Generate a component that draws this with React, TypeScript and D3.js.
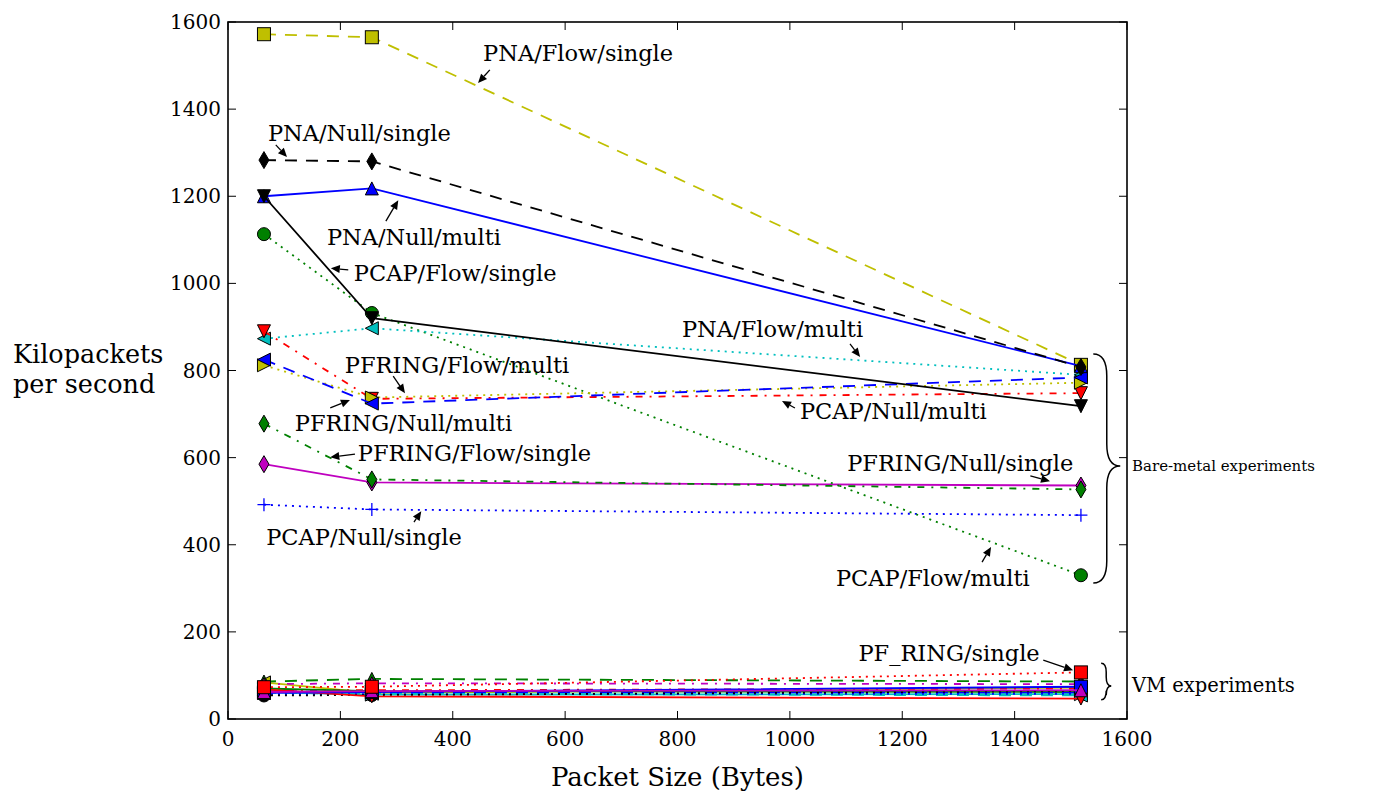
import React from 'react';
import * as d3 from 'd3';

const packetSizes = [64, 256, 1518];
const xTicks = [0, 200, 400, 600, 800, 1000, 1200, 1400, 1600];
const yTicks = [0, 200, 400, 600, 800, 1000, 1200, 1400, 1600];

// Bare-metal experiments (kilopackets per second)
const pnaFlowSingle = [1572, 1565, 813];
const pnaNullMulti = [1200, 1218, 810];
const pnaNullSingle = [1283, 1280, 808];
const pcapFlowSingle = [1200, 920, 718];
const pcapFlowMulti = [1113, 932, 330];
const pnaFlowMulti = [873, 897, 790];
const pcapNullMulti = [890, 735, 748];
const pfringFlowMulti = [812, 738, 772];
const pfringNullMulti = [825, 724, 784];
const pfringFlowSingle = [678, 550, 527];
const pfringNullSingle = [585, 543, 536];
const pcapNullSingle = [492, 481, 468];

// VM experiments
const vmYellow = [84, 60, 72];
const vmGreenDashed = [86, 92, 86];
const vmMagentaDashDot = [80, 82, 80];
const vmRedDashDot = [66, 66, 70];
const vmGreenSolid = [70, 64, 62];
const vmBlueDashed = [64, 61, 60];
const vmCyanDashed = [60, 58, 54];
const vmCyanSolid = [62, 56, 57];
const vmBlueDotted = [57, 57, 58];
const vmBlackDotted = [54, 55, 64];
const vmRedSolid = [68, 52, 47];
const vmBlueSolid = [60, 62, 74];
const vmMagentaSolid = [62, 64, 66];
const vmPfringSingle = [73, 74, 107];

const C = {
  y: '#bfbf00', k: '#000000', b: '#0000ff', g: '#008000',
  c: '#00bfbf', r: '#ff0000', m: '#bf00bf',
};

const DASH: Record<string, string | undefined> = {
  '-': undefined, '--': '12,9', ':': '2,5', '-.': '7,7,2,7',
};

type Series = { values: number[]; color: string; ls: string; marker: string };

const vmSeries: Series[] = [
  { values: vmYellow, color: C.y, ls: '-', marker: '<' },
  { values: vmGreenDashed, color: C.g, ls: '--', marker: '^' },
  { values: vmMagentaDashDot, color: C.m, ls: '-.', marker: '^' },
  { values: vmRedDashDot, color: C.r, ls: '-.', marker: 'v' },
  { values: vmGreenSolid, color: C.g, ls: '-', marker: 'o' },
  { values: vmBlueDashed, color: C.b, ls: '--', marker: '<' },
  { values: vmCyanDashed, color: C.c, ls: '--', marker: '<' },
  { values: vmCyanSolid, color: C.c, ls: '-', marker: '>' },
  { values: vmBlueDotted, color: C.b, ls: ':', marker: 'v' },
  { values: vmBlackDotted, color: C.k, ls: ':', marker: 'o' },
  { values: vmRedSolid, color: C.r, ls: '-', marker: 'v' },
  { values: vmBlueSolid, color: C.b, ls: '-', marker: 's' },
  { values: vmMagentaSolid, color: C.m, ls: '-', marker: '^' },
  { values: vmPfringSingle, color: C.r, ls: ':', marker: 's' },
];

const bareSeries: Series[] = [
  { values: pcapNullSingle, color: C.b, ls: ':', marker: '+' },
  { values: pfringNullSingle, color: C.m, ls: '-', marker: 'd' },
  { values: pfringFlowSingle, color: C.g, ls: '-.', marker: 'd' },
  { values: pcapFlowMulti, color: C.g, ls: ':', marker: 'o' },
  { values: pnaFlowMulti, color: C.c, ls: ':', marker: '<' },
  { values: pcapNullMulti, color: C.r, ls: '-.', marker: 'v' },
  { values: pfringFlowMulti, color: C.y, ls: ':', marker: '>' },
  { values: pfringNullMulti, color: C.b, ls: '--', marker: '<' },
  { values: pnaFlowSingle, color: C.y, ls: '--', marker: 's' },
  { values: pnaNullMulti, color: C.b, ls: '-', marker: '^' },
  { values: pnaNullSingle, color: C.k, ls: '--', marker: 'd' },
  { values: pcapFlowSingle, color: C.k, ls: '-', marker: 'v' },
];

// annotation text (baseline-left) and arrow start/tip, in data units
const annotations = [
  { text: 'PNA/Flow/single', at: [454, 1511], from: [466, 1490], to: [445, 1460] },
  { text: 'PNA/Null/single', at: [71, 1327], from: [85, 1318], to: [105, 1290] },
  { text: 'PNA/Null/multi', at: [176, 1088], from: [281, 1143], to: [303, 1191] },
  { text: 'PCAP/Flow/single', at: [224, 1006], from: [214, 1031], to: [183, 1035] },
  { text: 'PNA/Flow/multi', at: [808, 877], from: [1107, 861], to: [1125, 831] },
  { text: 'PFRING/Flow/multi', at: [208, 794], from: [294, 787], to: [315, 748] },
  { text: 'PFRING/Null/multi', at: [119, 661], from: [182, 714], to: [217, 732] },
  { text: 'PFRING/Flow/single', at: [231, 592], from: [226, 608], to: [182, 601] },
  { text: 'PFRING/Null/single', at: [1102, 569], from: [1428, 558], to: [1463, 546] },
  { text: 'PCAP/Null/single', at: [68, 400], from: [331, 452], to: [344, 477] },
  { text: 'PCAP/Flow/multi', at: [1082, 305], from: [1342, 360], to: [1358, 395] },
  { text: 'PCAP/Null/multi', at: [1018, 689], from: [1009, 714], to: [986, 730] },
  { text: 'PF_RING/single', at: [1122, 133], from: [1451, 135], to: [1504, 112] },
];

const W = 1380;
const H = 794;
const plot = { left: 228, right: 1127, top: 22, bottom: 719 };
const FONT = '"DejaVu Serif", serif';

function markerShape(m: string, color: string, key: string) {
  const s = 6.5;
  const common = { fill: color, stroke: '#000', strokeWidth: 1 };
  switch (m) {
    case 'o':
      return <circle key={key} r={s} {...common} />;
    case 's':
      return <rect key={key} x={-s} y={-s} width={2 * s} height={2 * s} {...common} />;
    case '^':
      return <path key={key} d={`M0,${-s}L${s},${s}L${-s},${s}Z`} {...common} />;
    case 'v':
      return <path key={key} d={`M0,${s}L${s},${-s}L${-s},${-s}Z`} {...common} />;
    case '<':
      return <path key={key} d={`M${-s},0L${s},${-s}L${s},${s}Z`} {...common} />;
    case '>':
      return <path key={key} d={`M${s},0L${-s},${-s}L${-s},${s}Z`} {...common} />;
    case 'd':
      return <path key={key} d="M0,-8.5L5,0L0,8.5L-5,0Z" {...common} />;
    case '+':
      return <path key={key} d={`M${-s},0H${s}M0,${-s}V${s}`} fill="none" stroke={color} strokeWidth={1.3} />;
    default:
      return null;
  }
}

function bracePath(x0: number, x1: number, yTop: number, yBot: number, yMid: number, r: number) {
  const xs = x0 + (x1 - x0) * 0.5;
  return [
    `M${x0},${yTop}`,
    `Q${xs},${yTop} ${xs},${yTop + r}`,
    `L${xs},${yMid - r}`,
    `Q${xs},${yMid} ${x1},${yMid}`,
    `Q${xs},${yMid} ${xs},${yMid + r}`,
    `L${xs},${yBot - r}`,
    `Q${xs},${yBot} ${x0},${yBot}`,
  ].join(' ');
}

export default function App() {
  const x = d3.scaleLinear().domain([0, 1600]).range([plot.left, plot.right]);
  const y = d3.scaleLinear().domain([0, 1600]).range([plot.bottom, plot.top]);

  const line = d3.line<number>()
    .x((_, i) => x(packetSizes[i]))
    .y(d => y(d));

  const drawSeries = (s: Series, idx: number, prefix: string) => (
    <g key={`${prefix}${idx}`}>
      <path
        d={line(s.values) || ''}
        fill="none"
        stroke={s.color}
        strokeWidth={1.8}
        strokeDasharray={DASH[s.ls]}
      />
      {s.values.map((v, i) => (
        <g key={i} transform={`translate(${x(packetSizes[i])},${y(v)})`}>
          {markerShape(s.marker, s.color, `m${i}`)}
        </g>
      ))}
    </g>
  );

  const arrow = (a: typeof annotations[number], i: number) => {
    const x1 = x(a.from[0]);
    const y1 = y(a.from[1]);
    const x2 = x(a.to[0]);
    const y2 = y(a.to[1]);
    const ang = Math.atan2(y2 - y1, x2 - x1);
    const hl = 9;
    const hw = 4;
    const bx = x2 - hl * Math.cos(ang);
    const by = y2 - hl * Math.sin(ang);
    const px = -Math.sin(ang) * hw;
    const py = Math.cos(ang) * hw;
    return (
      <g key={`a${i}`}>
        <line x1={x1} y1={y1} x2={bx} y2={by} stroke="#000" strokeWidth={1.3} />
        <path d={`M${x2},${y2}L${bx + px},${by + py}L${bx - px},${by - py}Z`} fill="#000" />
        <text x={x(a.at[0])} y={y(a.at[1])} fontSize={22.5} fontFamily={FONT} fill="#000">
          {a.text}
        </text>
      </g>
    );
  };

  const tickLen = 8;

  return (
    <svg
      width={W}
      height={H}
      style={{ position: 'absolute', left: 0, top: 0, background: '#fff' }}
    >
      <rect x={0} y={0} width={W} height={H} fill="#fff" />

      {vmSeries.map((s, i) => drawSeries(s, i, 'vm'))}
      {bareSeries.map((s, i) => drawSeries(s, i, 'bm'))}

      {annotations.map(arrow)}

      {/* frame */}
      <rect
        x={plot.left}
        y={plot.top}
        width={plot.right - plot.left}
        height={plot.bottom - plot.top}
        fill="none"
        stroke="#000"
        strokeWidth={1.6}
      />

      {/* ticks */}
      {xTicks.map(t => (
        <g key={`xt${t}`}>
          <line x1={x(t)} x2={x(t)} y1={plot.bottom} y2={plot.bottom - tickLen} stroke="#000" strokeWidth={1} />
          <line x1={x(t)} x2={x(t)} y1={plot.top} y2={plot.top + tickLen} stroke="#000" strokeWidth={1} />
          <text x={x(t)} y={plot.bottom + 27} textAnchor="middle" fontSize={20} fontFamily={FONT}>
            {t}
          </text>
        </g>
      ))}
      {yTicks.map(t => (
        <g key={`yt${t}`}>
          <line x1={plot.left} x2={plot.left + tickLen} y1={y(t)} y2={y(t)} stroke="#000" strokeWidth={1} />
          <line x1={plot.right} x2={plot.right - tickLen} y1={y(t)} y2={y(t)} stroke="#000" strokeWidth={1} />
          <text x={plot.left - 7} y={y(t) + 7} textAnchor="end" fontSize={20} fontFamily={FONT}>
            {t}
          </text>
        </g>
      ))}

      {/* axis labels */}
      <text x={(plot.left + plot.right) / 2} y={786} textAnchor="middle" fontSize={26} fontFamily={FONT}>
        Packet Size (Bytes)
      </text>
      <text x={13} y={363} fontSize={25.5} fontFamily={FONT}>Kilopackets</text>
      <text x={13} y={393} fontSize={25.5} fontFamily={FONT}>per second</text>

      {/* group braces */}
      <path
        d={bracePath(x(1540), x(1588), y(838), y(312), y(581), 22)}
        fill="none"
        stroke="#000"
        strokeWidth={1.5}
      />
      <text x={1132} y={471} fontSize={15} fontFamily={FONT}>Bare-metal experiments</text>
      <path
        d={bracePath(x(1554), x(1572), y(128), y(44), y(76), 9)}
        fill="none"
        stroke="#000"
        strokeWidth={1.5}
      />
      <text x={1132} y={692} fontSize={19.5} fontFamily={FONT}>VM experiments</text>
    </svg>
  );
}
